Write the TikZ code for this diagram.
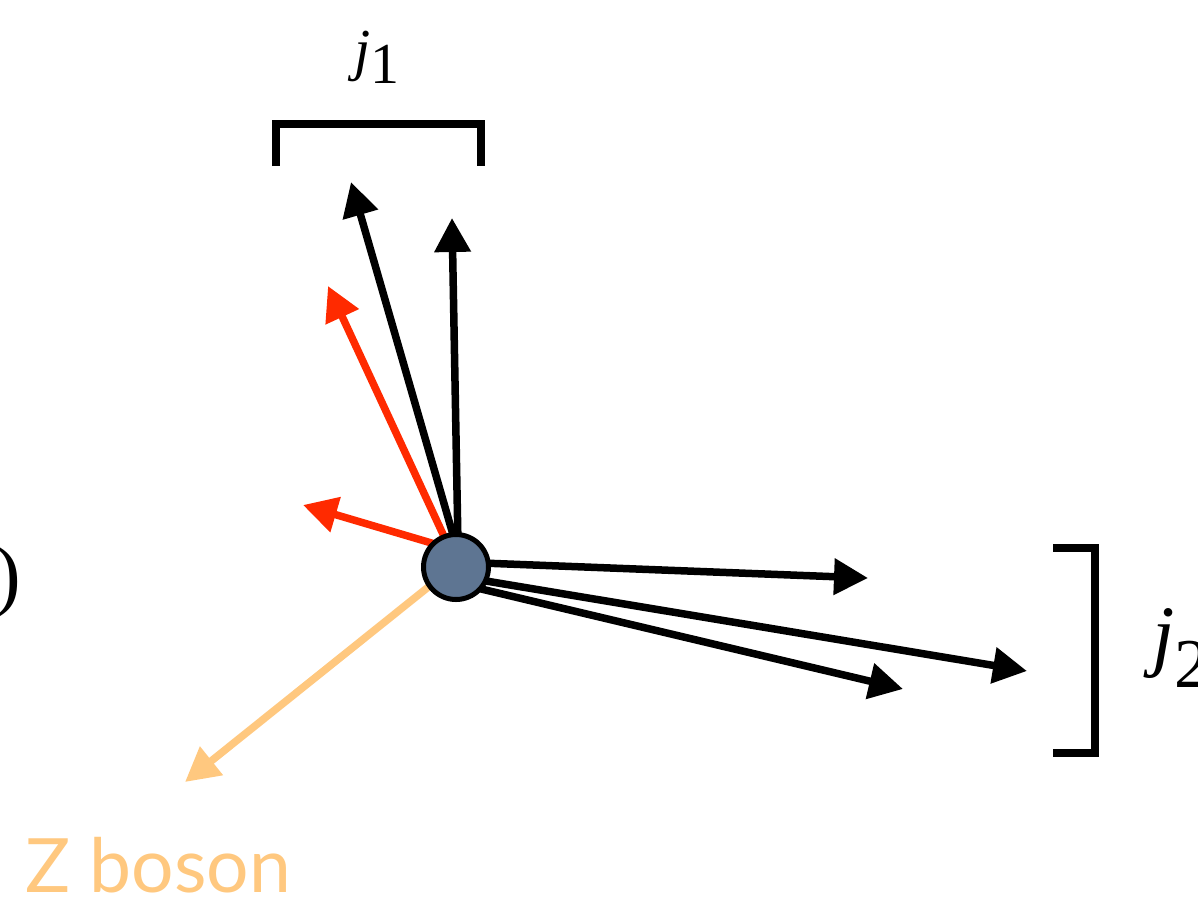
\documentclass[tikz,border=0pt]{standalone}
\usepackage{fontspec}
\setmainfont{Liberation Serif}
\newfontfamily\zfont{Lato}
\usetikzlibrary{arrows.meta}
\definecolor{redarrow}{HTML}{FF2A00}
\definecolor{zorange}{HTML}{FFC87F}
\definecolor{vfill}{HTML}{5E7592}
\tikzset{
  vec/.style={line width=7.5pt, -{Triangle[length=34pt,width=35pt]}},
  bracket/.style={line width=7.5pt, line cap=butt, line join=miter},
  lbl/.style={inner sep=0pt, anchor=base west}
}
\begin{document}
\begin{tikzpicture}[x=1pt,y=-1pt]
\useasboundingbox (0,0) rectangle (1198,897);
% start points (hidden under the vertex)
\coordinate (sb1) at (456,545);
\coordinate (sb2) at (458,545);
\coordinate (sr1) at (448,545);
\coordinate (sr2) at (445,547);
\coordinate (so) at (452,568);
\coordinate (sh1) at (456,562);
\coordinate (sh2) at (456,576);
\coordinate (sh3) at (456,583);
% tips
\coordinate (tb1) at (351,182);
\coordinate (tb2) at (452,218);
\coordinate (tr1) at (328,286);
\coordinate (tr2) at (303,505);
\coordinate (to) at (185,782);
\coordinate (th1) at (868,578);
\coordinate (th2) at (1027,671);
\coordinate (th3) at (903,689);
% arrows
\draw[vec, zorange] (so) -- (to);
\draw[vec, redarrow] (sr1) -- (tr1);
\draw[vec, redarrow] (sr2) -- (tr2);
\draw[vec] (sb1) -- (tb1);
\draw[vec] (sb2) -- (tb2);
\draw[vec] (sh1) -- (th1);
\draw[vec] (sh2) -- (th2);
\draw[vec] (sh3) -- (th3);
% vertex
\node[circle, draw=black, line width=5pt, fill=vfill, minimum size=65pt, inner sep=0pt] (vertex) at (456,567) {};
% brackets
\coordinate (b1a) at (276,166);
\coordinate (b1b) at (276,124);
\coordinate (b1c) at (481,124);
\coordinate (b1d) at (481,166);
\draw[bracket] (b1a) -- (b1b) -- (b1c) -- (b1d);
\coordinate (b2a) at (1053,548);
\coordinate (b2b) at (1095,548);
\coordinate (b2c) at (1095,753);
\coordinate (b2d) at (1053,753);
\draw[bracket] (b2a) -- (b2b) -- (b2c) -- (b2d);
% labels
\node[lbl] (j1) at (354,69) {\fontsize{58}{58}\selectfont\textit{j}\raisebox{-14pt}{\fontsize{58}{58}\selectfont 1}};
\node[lbl] (j2) at (1152,661) {\fontsize{80}{80}\selectfont\textit{j}\raisebox{-26pt}{\fontsize{70}{70}\selectfont 2}};
\node[inner sep=0pt, anchor=base east] (paren) at (21,601) {\fontsize{80}{80}\selectfont )};
\node[lbl, text=zorange] (zlabel) at (25,892) {\zfont\fontsize{75}{75}\selectfont Z boson};
\end{tikzpicture}
\end{document}
